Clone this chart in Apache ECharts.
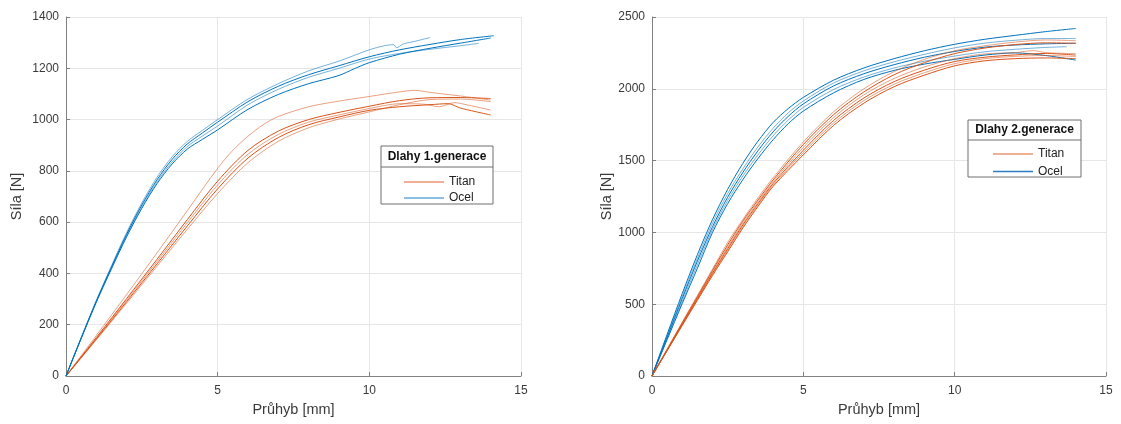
<!DOCTYPE html>
<html>
<head>
<meta charset="utf-8">
<script src="https://cdn.jsdelivr.net/npm/echarts@6/dist/echarts.min.js"></script>
<style>
  html, body { margin: 0; padding: 0; background: #fff; }
  #chart { width: 1121px; height: 424px; }
</style>
</head>
<body>
<div id="chart"></div>
<script>
// Force–deflection curves of bone plates, [deflection mm, force N]
// Plates, generation 1 — steel (Ocel)
const g1Ocel1 = [[0,0],[0.5,150],[1,295],[1.5,430],[2,560],[2.5,675],[3,775],[3.5,855],[4,915],[4.5,958],[5,1000],[6,1080],[7,1140],[8,1190],[9,1228],[10,1272],[10.5,1288],[10.8,1292],[10.9,1280],[11.1,1294],[11.5,1305],[12,1320]];
const g1Ocel2 = [[0,0],[0.5,148],[1,292],[1.5,425],[2,553],[2.5,667],[3,765],[3.5,845],[4,905],[4.5,948],[5,990],[6,1070],[7,1130],[8,1175],[9,1210],[10,1245],[11,1272],[12,1293],[13,1312],[14.1,1327]];
const g1Ocel3 = [[0,0],[0.5,147],[1,290],[1.5,422],[2,548],[2.5,660],[3,757],[3.5,835],[4,895],[4.5,936],[5,975],[6,1058],[7,1118],[8,1165],[9,1200],[10,1236],[11,1258],[12,1274],[13,1288],[13.6,1297]];
const g1Ocel4 = [[0,0],[0.5,146],[1,288],[1.5,418],[2,543],[2.5,654],[3,750],[3.5,827],[4,885],[4.5,923],[5,960],[6,1040],[7,1098],[8,1140],[9,1172],[9.5,1198],[10,1222],[11,1255],[12,1278],[13,1298],[14,1318]];
// Plates, generation 1 — titanium (Titan)
const g1Titan1 = [[0,0],[1,158],[2,318],[3,480],[4,645],[5,810],[5.5,880],[6,935],[6.5,980],[7,1012],[8,1050],[9,1072],[10,1090],[11,1108],[11.5,1114],[12,1106],[13,1092],[14,1076]];
const g1Titan2 = [[0,0],[1,150],[2,302],[3,455],[4,610],[5,760],[6,880],[7,955],[8,1000],[9,1028],[10,1052],[11,1074],[12,1085],[13,1086],[14,1082]];
const g1Titan3 = [[0,0],[1,147],[2,296],[3,446],[4,598],[5,745],[6,865],[7,942],[8,990],[9,1018],[10,1043],[11,1062],[11.8,1060],[12.3,1050],[12.8,1066],[13.2,1058],[14,1037]];
const g1Titan4 = [[0,0],[1,144],[2,290],[3,437],[4,585],[5,730],[6,850],[7,930],[8,980],[9,1010],[10,1036],[11,1050],[12,1058],[12.6,1062],[13,1045],[14,1018]];
const g1Titan5 = [[0,0],[1,141],[2,284],[3,428],[4,572],[5,712],[6,832],[7,915],[8,968],[9,1002],[10,1030],[11,1058],[12,1078],[13,1080],[14,1070]];
// Plates, generation 2 — steel (Ocel)
const g2Ocel1 = [[0,0],[0.5,290],[1,575],[1.5,845],[2,1090],[2.5,1300],[3,1480],[3.5,1635],[4,1765],[4.5,1862],[5,1940],[6,2060],[7,2145],[8,2210],[9,2265],[10,2310],[11,2345],[12,2372],[13,2398],[14,2420]];
const g2Ocel2 = [[0,0],[0.5,280],[1,555],[1.5,820],[2,1065],[2.5,1270],[3,1442],[3.5,1595],[4,1725],[4.5,1832],[5,1915],[6,2040],[7,2125],[8,2188],[9,2240],[10,2285],[11,2318],[12,2338],[13,2350],[14,2350]];
const g2Ocel3 = [[0,0],[0.5,270],[1,540],[1.5,800],[2,1040],[2.5,1245],[3,1417],[3.5,1568],[4,1700],[4.5,1808],[5,1895],[6,2020],[7,2105],[8,2168],[9,2220],[10,2260],[11,2290],[12,2305],[13,2313],[14,2317]];
const g2Ocel4 = [[0,0],[0.5,262],[1,520],[1.5,775],[2,1020],[2.5,1222],[3,1392],[3.5,1540],[4,1672],[4.5,1782],[5,1870],[6,1995],[7,2082],[8,2145],[9,2192],[10,2228],[11,2258],[12,2275],[13,2288],[13.7,2293]];
const g2Ocel5 = [[0,0],[0.5,253],[1,505],[1.5,750],[2,1000],[2.5,1200],[3,1367],[3.5,1514],[4,1645],[4.5,1757],[5,1845],[6,1972],[7,2065],[8,2128],[9,2172],[10,2205],[11,2235],[12,2250],[13,2232],[14,2200]];
// Plates, generation 2 — titanium (Titan)
const g2Titan1 = [[0,0],[0.5,188],[1,375],[1.5,560],[2,745],[2.5,930],[3,1090],[3.5,1240],[4,1380],[5,1630],[6,1840],[7,2000],[8,2120],[9,2205],[10,2265],[11,2300],[12,2325],[13,2340],[14,2335]];
const g2Titan2 = [[0,0],[0.5,185],[1,370],[1.5,552],[2,735],[2.5,913],[3,1078],[3.5,1225],[4,1365],[5,1612],[6,1820],[7,1978],[8,2098],[9,2182],[10,2245],[11,2284],[12,2308],[13,2320],[14,2317]];
const g2Titan3 = [[0,0],[0.5,182],[1,365],[1.5,545],[2,725],[2.5,898],[3,1064],[3.5,1212],[4,1352],[5,1592],[6,1800],[7,1958],[8,2072],[9,2152],[10,2210],[11,2243],[12,2252],[12.6,2266],[13,2252],[14,2245]];
const g2Titan4 = [[0,0],[0.5,180],[1,360],[1.5,539],[2,716],[2.5,886],[3,1052],[3.5,1200],[4,1340],[5,1572],[6,1780],[7,1936],[8,2050],[9,2130],[10,2190],[11,2220],[12,2236],[13,2246],[14,2235]];
const g2Titan5 = [[0,0],[0.5,178],[1,356],[1.5,533],[2,708],[2.5,875],[3,1041],[3.5,1190],[4,1330],[5,1556],[6,1762],[7,1918],[8,2032],[9,2112],[10,2175],[11,2210],[12,2226],[13,2232],[14,2225]];
const g2Titan6 = [[0,0],[0.5,176],[1,352],[1.5,527],[2,700],[2.5,865],[3,1030],[3.5,1180],[4,1320],[5,1540],[6,1745],[7,1900],[8,2015],[9,2095],[10,2160],[11,2195],[12,2210],[13,2215],[14,2210]];

// Axis ranges and tick steps
const xMax = 15, xStep = 5;
const y1Max = 1400, y1Step = 200;
const y2Max = 2500, y2Step = 500;

const legendTitles = ['Dlahy 1.generace', 'Dlahy 2.generace'];
const xName = 'Průhyb [mm]';
const yName = 'Síla [N]';

const BLUE = '#0072BD', BLUE_L = 'rgba(0,114,189,0.55)';
const RED = '#D95319', RED_L = 'rgba(217,83,25,0.55)';
const FONT = 'Liberation Sans, Arial, Helvetica, sans-serif';
const TXT = '#3a3a3a', AX = '#808080', GRIDC = '#e6e6e6';

function line(name, data, color, idx) {
  return {
    type: 'line', name, data,
    xAxisIndex: idx, yAxisIndex: idx,
    showSymbol: false, symbol: 'none',
    smooth: 0.3,
    lineStyle: { width: 1, color },
    itemStyle: { color },
    emphasis: { disabled: true },
    animation: false
  };
}

const plain = v => String(v);

function xAx(idx) {
  return {
    type: 'value', gridIndex: idx, min: 0, max: xMax, interval: xStep,
    name: xName, nameLocation: 'middle', nameGap: 26,
    nameTextStyle: { fontFamily: FONT, fontSize: 14.5, color: TXT },
    axisLine: { show: true, lineStyle: { color: AX, width: 1 } },
    axisTick: { show: true, inside: true, length: 4, lineStyle: { color: AX } },
    axisLabel: { fontFamily: FONT, fontSize: 12, color: TXT, margin: 9, formatter: plain },
    splitLine: { show: true, lineStyle: { color: GRIDC, width: 1 } }
  };
}
function yAx(idx, max, step, gap) {
  return {
    type: 'value', gridIndex: idx, min: 0, max, interval: step,
    name: yName, nameLocation: 'middle', nameGap: gap, nameRotate: 90,
    nameTextStyle: { fontFamily: FONT, fontSize: 14.5, color: TXT },
    axisLine: { show: true, lineStyle: { color: AX, width: 1 } },
    axisTick: { show: true, inside: true, length: 4, lineStyle: { color: AX } },
    axisLabel: { fontFamily: FONT, fontSize: 12, color: TXT, margin: 7, formatter: plain },
    splitLine: { show: true, lineStyle: { color: GRIDC, width: 1 } }
  };
}

function legendBox(x, y, w, h, sepY, title) {
  return [
    { type: 'rect', shape: { x, y, width: w, height: h }, style: { fill: '#fff', stroke: '#6e6e6e', lineWidth: 1 }, z: 50 },
    { type: 'line', shape: { x1: x, y1: sepY, x2: x + w, y2: sepY }, style: { stroke: '#6e6e6e', lineWidth: 1 }, z: 51 },
    { type: 'text', x: x + w / 2, y: (y + sepY) / 2, style: { text: title, font: 'bold 12px ' + FONT, fill: '#111', align: 'center', verticalAlign: 'middle' }, z: 52 }
  ];
}

function legendCfg(left, top, gap, titanColor, ocelColor) {
  return {
    orient: 'vertical', left, top, itemGap: gap,
    itemWidth: 40, itemHeight: 1.5, icon: 'rect',
    selectedMode: false, z: 60,
    textStyle: { fontFamily: FONT, fontSize: 12, color: '#222', lineHeight: 14 },
    data: [
      { name: 'Titan', itemStyle: { color: titanColor } },
      { name: 'Ocel', itemStyle: { color: ocelColor } }
    ]
  };
}

const chart = echarts.init(document.getElementById('chart'), null, { renderer: 'canvas' });
chart.setOption({
  animation: false,
  backgroundColor: '#fff',
  grid: [
    { left: 66, top: 17, width: 455, height: 359 },
    { left: 652, top: 17, width: 454, height: 359 }
  ],
  xAxis: [xAx(0), xAx(1)],
  yAxis: [yAx(0, y1Max, y1Step, 42), yAx(1, y2Max, y2Step, 34)],
  legend: [
    legendCfg(399, 170, 2, 'rgba(233,130,90,0.85)', 'rgba(80,160,215,0.9)'),
    legendCfg(988, 142, 3.4, 'rgba(233,130,90,0.85)', 'rgba(20,110,190,0.9)')
  ],
  graphic: [
    ...legendBox(381, 146, 112, 58, 167, legendTitles[0]),
    ...legendBox(968, 120, 113, 57, 140, legendTitles[1])
  ],
  series: [
    line('Titan', g1Titan1, RED_L, 0),
    line('Titan', g1Titan2, RED, 0),
    line('Titan', g1Titan3, RED_L, 0),
    line('Titan', g1Titan4, RED, 0),
    line('Titan', g1Titan5, RED_L, 0),
    line('Ocel', g1Ocel1, BLUE_L, 0),
    line('Ocel', g1Ocel2, BLUE, 0),
    line('Ocel', g1Ocel3, BLUE_L, 0),
    line('Ocel', g1Ocel4, BLUE, 0),
    line('Ocel', g2Ocel1, BLUE, 1),
    line('Ocel', g2Ocel2, BLUE_L, 1),
    line('Ocel', g2Ocel3, BLUE, 1),
    line('Ocel', g2Ocel4, BLUE_L, 1),
    line('Ocel', g2Ocel5, BLUE, 1),
    line('Titan', g2Titan1, RED_L, 1),
    line('Titan', g2Titan2, RED, 1),
    line('Titan', g2Titan3, RED_L, 1),
    line('Titan', g2Titan4, RED, 1),
    line('Titan', g2Titan5, RED_L, 1),
    line('Titan', g2Titan6, RED, 1)
  ]
});
</script>
</body>
</html>
